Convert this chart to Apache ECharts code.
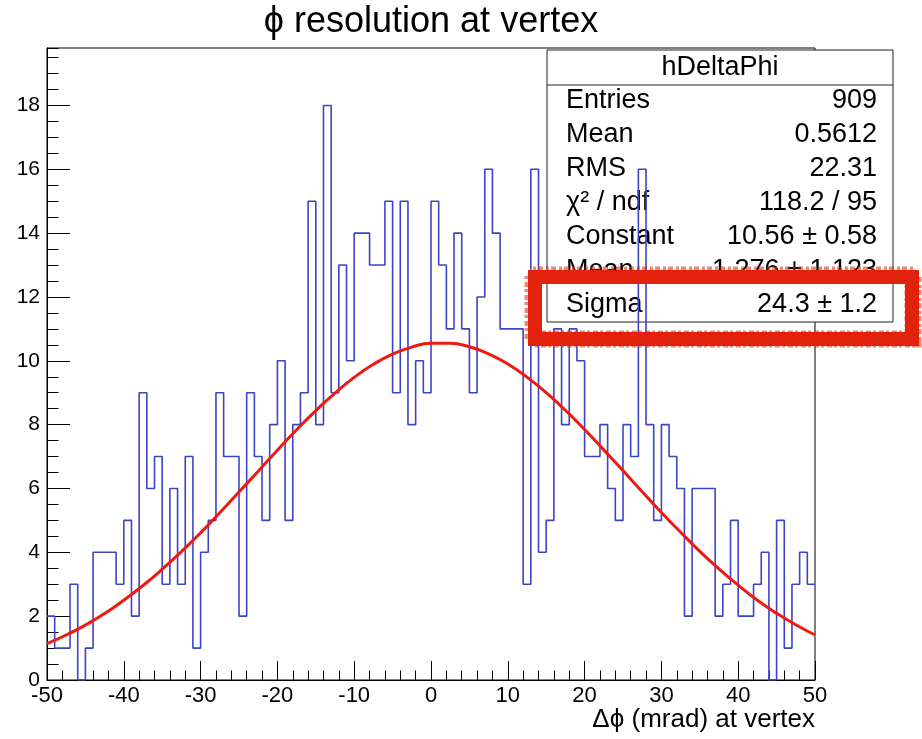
<!DOCTYPE html>
<html>
<head>
<meta charset="utf-8">
<script src="https://cdn.jsdelivr.net/npm/echarts@6/dist/echarts.min.js"></script>
<style>
  html, body { margin: 0; padding: 0; background: #ffffff; }
  #chart { width: 922px; height: 739px; }
</style>
</head>
<body>
<div id="chart"></div>
<script>
// Histogram binning: 100 bins of 1 mrad from -50 to 50
const xMin = -50;
const xMax = 50;
const binWidth = 1;

// Bin contents of hDeltaPhi, lowest bin first
const counts = [
  2, 1, 1, 3, 0, 1, 4, 4, 4, 3,
  5, 2, 9, 6, 7, 3, 6, 3, 7, 1,
  4, 5, 9, 7, 7, 2, 9, 7, 5, 8,
  10, 5, 8, 9, 15, 8, 18, 9, 13, 10,
  14, 14, 13, 13, 15, 9, 15, 8, 10, 9,
  15, 13, 11, 14, 11, 9, 12, 16, 14, 11,
  11, 11, 3, 16, 4, 5, 11, 8, 11, 10,
  7, 7, 8, 6, 5, 8, 7, 16, 8, 5,
  8, 7, 6, 2, 6, 6, 6, 2, 3, 5,
  2, 2, 3, 4, 0, 5, 1, 3, 4, 3
];

// Gaussian fit curve, sampled every 2.5 mrad
const fitX = [
  -50, -47.5, -45, -42.5, -40, -37.5, -35, -32.5, -30, -27.5,
  -25, -22.5, -20, -17.5, -15, -12.5, -10, -7.5, -5, -2.5,
  0, 2.5, 5, 7.5, 10, 12.5, 15, 17.5, 20, 22.5,
  25, 27.5, 30, 32.5, 35, 37.5, 40, 42.5, 45, 47.5, 50
];
const fitY = [
  1.14, 1.41, 1.72, 2.08, 2.50, 2.96, 3.47, 4.02, 4.61, 5.24,
  5.89, 6.54, 7.20, 7.84, 8.44, 8.99, 9.48, 9.89, 10.21, 10.43,
  10.55, 10.55, 10.44, 10.22, 9.90, 9.49, 9.00, 8.45, 7.85, 7.21,
  6.56, 5.90, 5.25, 4.63, 4.03, 3.48, 2.97, 2.50, 2.09, 1.73, 1.41
];

// Statistics box contents
const statsTitle = 'hDeltaPhi';
const statNames = ['Entries', 'Mean', 'RMS', 'χ² / ndf', 'Constant', 'Mean', 'Sigma'];
const statValues = ['909', '0.5612', '22.31', '118.2 / 95', '10.56 ± 0.58', '1.276 ± 1.123', '24.3 ± 1.2'];

const chartTitle = 'ϕ resolution at vertex';
const xTitle = 'Δϕ (mrad) at vertex';
const yMax = 19.8;

const FONT = '"Liberation Sans", Arial, Helvetica, sans-serif';

// outline points at bin edges; the last bin is closed at the upper edge
const histPoints = counts.map((c, i) => [xMin + i * binWidth, c]);
histPoints.push([xMin + counts.length * binWidth, counts[counts.length - 1]]);
const fitPoints = fitX.map((x, i) => [x, fitY[i]]);

const chart = echarts.init(document.getElementById('chart'), null, { renderer: 'canvas' });

const grid = { left: 47, top: 48, width: 768, height: 632 };

// statistics panel elements
const box = { x: 547, y: 50, w: 346, h: 272 };
const rowTop = 101, rowStep = 34;
const statFont = '27px ' + FONT;
const statsChildren = [
  { type: 'rect', shape: { x: box.x, y: box.y, width: box.w, height: box.h },
    style: { fill: '#ffffff', stroke: '#222222', lineWidth: 1 } },
  { type: 'line', shape: { x1: box.x, y1: 85, x2: box.x + box.w, y2: 85 },
    style: { stroke: '#222222', lineWidth: 1 } },
  { type: 'text', x: box.x + box.w / 2, y: 68,
    style: { text: statsTitle, font: statFont, fill: '#000', textAlign: 'center', textVerticalAlign: 'middle' } }
];
statNames.forEach((name, i) => {
  statsChildren.push({ type: 'text', x: 566, y: rowTop + i * rowStep,
    style: { text: name, font: statFont, fill: '#000', textAlign: 'left', textVerticalAlign: 'middle' } });
  statsChildren.push({ type: 'text', x: 877, y: rowTop + i * rowStep,
    style: { text: statValues[i], font: statFont, fill: '#000', textAlign: 'right', textVerticalAlign: 'middle' } });
});

const option = {
  animation: false,
  backgroundColor: '#ffffff',
  grid: Object.assign({ show: true, borderColor: '#000000', borderWidth: 1, backgroundColor: 'transparent' }, grid),
  xAxis: {
    type: 'value', min: xMin, max: xMax, interval: 10,
    axisLine: { show: true, onZero: false, lineStyle: { color: '#000', width: 1 } },
    axisTick: { show: true, inside: true, length: 19, lineStyle: { color: '#000', width: 1 } },
    minorTick: { show: true, splitNumber: 5, length: 9.5, lineStyle: { color: '#000', width: 1 } },
    axisLabel: { color: '#000', fontSize: 22, fontFamily: FONT, margin: 5 },
    splitLine: { show: false }, minorSplitLine: { show: false }
  },
  yAxis: [
    {
      type: 'value', min: 0, max: yMax, interval: 2, position: 'left',
      axisLine: { show: true, onZero: false, lineStyle: { color: '#000', width: 1 } },
      axisTick: { show: true, inside: true, length: 23, lineStyle: { color: '#000', width: 1 } },
      axisLabel: { color: '#000', fontSize: 21, fontFamily: FONT, margin: 7, showMaxLabel: false },
      splitLine: { show: false }
    },
    {
      type: 'value', min: 0, max: yMax, interval: 0.5, position: 'left',
      axisLine: { show: false, onZero: false },
      axisTick: { show: true, inside: true, length: 11.5, lineStyle: { color: '#000', width: 1 } },
      axisLabel: { show: false },
      splitLine: { show: false }
    }
  ],
  series: [
    {
      name: 'hDeltaPhi', type: 'line', step: 'end', data: histPoints,
      xAxisIndex: 0, yAxisIndex: 0, symbol: 'none', z: 3,
      lineStyle: { color: '#3a44c8', width: 1.6 }
    },
    {
      name: 'gaus', type: 'line', smooth: true, data: fitPoints,
      xAxisIndex: 0, yAxisIndex: 0, symbol: 'none', z: 4,
      lineStyle: { color: '#ee1a10', width: 3 }
    }
  ],
  graphic: [
    { type: 'text', x: 431, y: 22, z: 10,
      style: { text: chartTitle, font: '36px ' + FONT, fill: '#000', textAlign: 'center', textVerticalAlign: 'middle' } },
    { type: 'text', x: 815, y: 720, z: 10,
      style: { text: xTitle, font: '26px ' + FONT, fill: '#000', textAlign: 'right', textVerticalAlign: 'middle' } },
    { type: 'group', z: 10, children: statsChildren },
    // hand-marked frame around the Sigma row
    { type: 'rect', z: 20,
      shape: { x: 535, y: 277, width: 377, height: 62 },
      style: { fill: 'none', stroke: '#e2230c', lineWidth: 14 } },
    { type: 'rect', z: 21,
      shape: { x: 533, y: 275, width: 380, height: 64 },
      style: { fill: 'none', stroke: 'rgba(226,35,12,0.55)', lineWidth: 17, lineDash: [3, 2, 5, 3] } }
  ]
};

chart.setOption(option);
</script>
</body>
</html>
